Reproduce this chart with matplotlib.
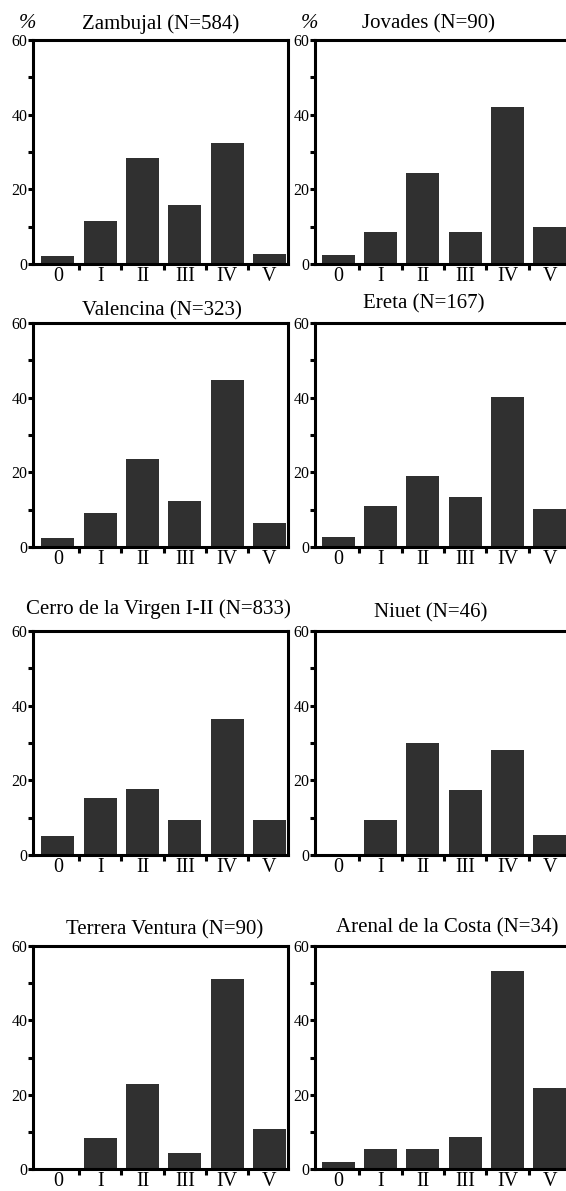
import matplotlib
matplotlib.use("Agg")
import matplotlib.pyplot as plt
from matplotlib.ticker import FixedLocator

plt.rcParams['font.family'] = ['Liberation Serif', 'DejaVu Serif']

# ---- data ----
categories = ["0", "I", "II", "III", "IV", "V"]
sites = ["Zambujal", "Jovades", "Valencina", "Ereta",
         "Cerro de la Virgen I-II", "Niuet", "Terrera Ventura", "Arenal de la Costa"]
sample_sizes = [584, 90, 323, 167, 833, 46, 90, 34]

zambujal = [2.2, 11.6, 28.3, 15.9, 32.4, 2.7]
jovades = [2.5, 8.6, 24.3, 8.5, 42.1, 9.9]
valencina = [2.5, 9.0, 23.7, 12.2, 44.8, 6.3]
ereta = [2.7, 11.1, 19.0, 13.4, 40.1, 10.2]
cerro = [5.1, 15.4, 17.8, 9.4, 36.5, 9.4]
niuet = [0.0, 9.4, 30.0, 17.5, 28.1, 5.3]
terrera = [0.0, 8.3, 23.0, 4.2, 51.0, 10.7]
arenal = [2.0, 5.5, 5.5, 8.5, 53.4, 21.9]
series = [zambujal, jovades, valencina, ereta, cerro, niuet, terrera, arenal]

y_major = [0, 20, 40, 60]
y_minor = [10, 30, 50]

# ---- layout (pixels) ----
W, H = 566, 1191
col_x0 = [33, 315]
ax_w = 255
row_top = [40, 323, 631, 946]
row_bot = [264, 547, 855, 1169]
col_xlim = [(-0.59, 5.44), (-0.55, 5.48)]
title_cx = [161, 428, 162, 424, 158, 431, 165, 447]
title_base = [29, 28, 315, 308, 614, 617, 934, 932]

bar_color = "#303030"
lw = 2.2

fig = plt.figure(figsize=(W / 100, H / 100), dpi=100)

for i, (name, n, vals) in enumerate(zip(sites, sample_sizes, series)):
    r, c = divmod(i, 2)
    x0 = col_x0[c]
    top, bot = row_top[r], row_bot[r]
    ax = fig.add_axes([x0 / W, 1 - bot / H, ax_w / W, (bot - top) / H])
    xs = list(range(len(categories)))
    ax.bar(xs, vals, width=0.78, color=bar_color, edgecolor='none', zorder=2)
    ax.set_xlim(*col_xlim[c])
    ax.set_ylim(0, 60)
    for sp in ax.spines.values():
        sp.set_linewidth(lw)
        sp.set_color('black')
    ax.xaxis.set_major_locator(FixedLocator(xs))
    ax.set_xticklabels(categories, fontsize=14.5)
    ax.xaxis.set_minor_locator(FixedLocator([k + 0.5 for k in xs[:-1]]))
    ax.tick_params(axis='x', which='major', length=0, pad=2.5)
    ax.tick_params(axis='x', which='minor', length=4.5, width=2.2, direction='out')
    ax.yaxis.set_major_locator(FixedLocator(y_major))
    ax.yaxis.set_minor_locator(FixedLocator(y_minor))
    ax.set_yticklabels([str(v) for v in y_major], fontsize=11.5)
    ax.tick_params(axis='y', which='major', length=3.5, width=2.2, direction='out', pad=0.5)
    ax.tick_params(axis='y', which='minor', length=3.5, width=2.2, direction='out')
    fig.text(title_cx[i] / W, 1 - title_base[i] / H, f"{name} (N={n})",
             ha='center', va='baseline', fontsize=15)
    if r == 0:
        fig.text((x0 - 6) / W, 1 - 28 / H, "%", ha='center', va='baseline',
                 fontsize=15, style='italic')

fig.savefig("out.png", dpi=100)
